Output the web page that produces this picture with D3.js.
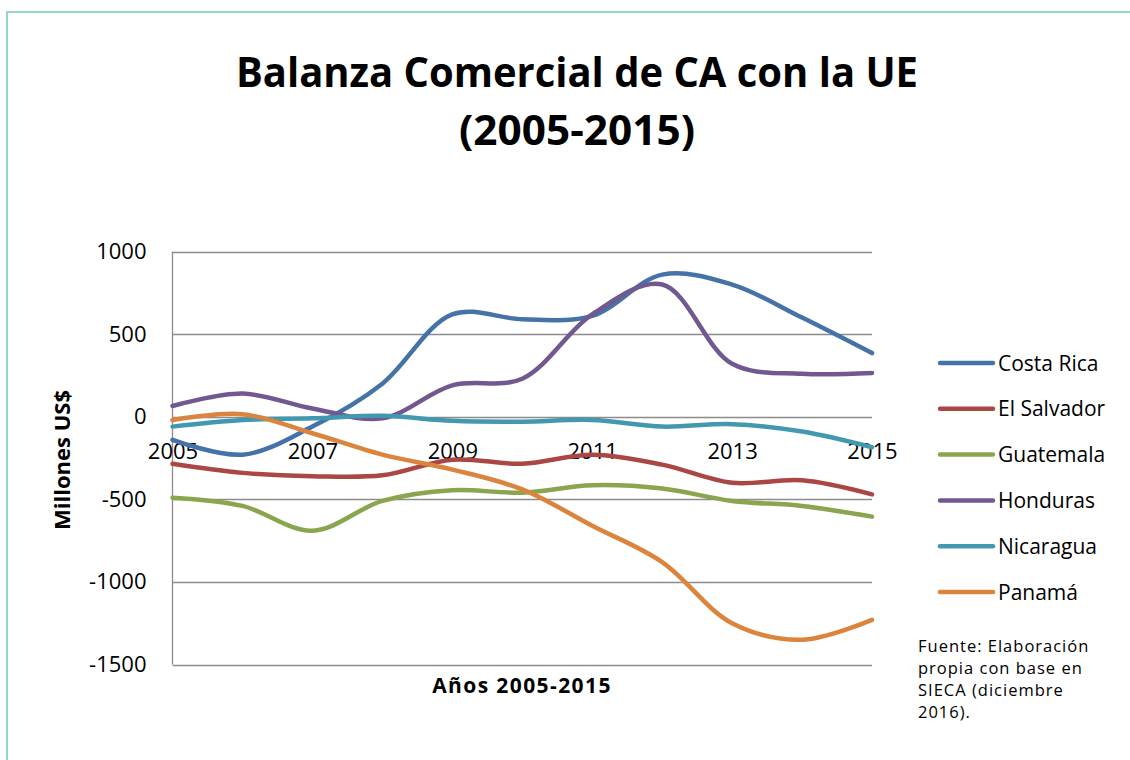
<!DOCTYPE html>
<html>
<head>
<meta charset="utf-8">
<script src="https://cdn.jsdelivr.net/npm/d3@7"></script>
<style>
  body { margin: 0; background: #fff; }
  text { font-family: "Open Sans", "Liberation Sans", sans-serif; }
</style>
</head>
<body>
<svg width="1130" height="760"></svg>
<script>

var years = [2005, 2006, 2007, 2008, 2009, 2010, 2011, 2012, 2013, 2014, 2015];
var yearTicks = [2005, 2007, 2009, 2011, 2013, 2015];
var valueTicks = [1000, 500, 0, -500, -1000, -1500];

var countries = ['Costa Rica', 'El Salvador', 'Guatemala', 'Honduras', 'Nicaragua', 'Panamá'];
var colors = ['#4572a7', '#aa4643', '#89a54e', '#71588f', '#4198af', '#db843d'];

var costaRica  = [-140, -230, -60, 200, 620, 590, 610, 860, 800, 600, 385];
var elSalvador = [-285, -340, -360, -355, -260, -285, -230, -290, -400, -385, -470];
var guatemala  = [-490, -540, -690, -510, -445, -460, -415, -435, -510, -540, -605];
var honduras   = [65, 140, 50, -10, 190, 230, 620, 800, 320, 260, 265];
var nicaragua  = [-60, -20, -10, 5, -25, -30, -20, -60, -45, -90, -185];
var panama     = [-20, 15, -100, -230, -320, -440, -660, -880, -1250, -1350, -1230];

var series = [costaRica, elSalvador, guatemala, honduras, nicaragua, panama];

var fuente = ['Fuente: Elaboración', 'propia con base en', 'SIECA (diciembre', '2016).'];

var svg = d3.select('svg');

// marco exterior
svg.append('path')
    .attr('d', 'M7,760 L7,12 L1130,12')
    .attr('fill', 'none')
    .attr('stroke', '#93d5c6')
    .attr('stroke-width', 2);

var scaleX = d3.scaleLinear().domain([2005, 2015]).range([172.5, 872]);
var scaleY = d3.scaleLinear().domain([-1500, 1000]).range([664.5, 251.5]);

// titulo
svg.append('text')
    .attr('x', 577).attr('y', 87)
    .attr('text-anchor', 'middle')
    .attr('font-size', 41).attr('font-weight', 'bold')
    .attr('textLength', 682).attr('lengthAdjust', 'spacingAndGlyphs')
    .text('Balanza Comercial de CA con la UE');
svg.append('text')
    .attr('x', 577).attr('y', 145)
    .attr('text-anchor', 'middle')
    .attr('font-size', 41).attr('font-weight', 'bold')
    .attr('textLength', 236).attr('lengthAdjust', 'spacingAndGlyphs')
    .text('(2005-2015)');

// grilla
svg.append('g')
    .selectAll('line')
    .data(valueTicks)
    .enter()
    .append('line')
    .attr('x1', scaleX(2005))
    .attr('x2', scaleX(2015))
    .attr('y1', function(d) { return Math.round(scaleY(d)) + 0.5; })
    .attr('y2', function(d) { return Math.round(scaleY(d)) + 0.5; })
    .attr('stroke', '#8c8c8c')
    .attr('stroke-width', 1.3);

svg.append('line')
    .attr('x1', scaleX(2005)).attr('x2', scaleX(2005))
    .attr('y1', scaleY(1000)).attr('y2', scaleY(-1500))
    .attr('stroke', '#8c8c8c')
    .attr('stroke-width', 1.3);

// eje Y
var axisY = svg.append('g')
    .attr('transform', 'translate(' + scaleX(2005) + ',0)')
    .call(d3.axisLeft(scaleY).tickValues(valueTicks).tickSize(0).tickPadding(26)
        .tickFormat(function(d) { return String(d); }));
axisY.select('.domain').remove();
axisY.selectAll('text')
    .attr('font-size', 22)
    .attr('font-family', '"Open Sans", sans-serif')
    .attr('fill', '#000');

// eje X (cruza en 0)
var axisX = svg.append('g')
    .attr('transform', 'translate(0,' + scaleY(0) + ')')
    .call(d3.axisBottom(scaleX).tickValues(yearTicks).tickSize(0).tickPadding(27)
        .tickFormat(function(d) { return String(d); }));
axisX.select('.domain').remove();
axisX.selectAll('text')
    .attr('font-size', 22)
    .attr('font-family', '"Open Sans", sans-serif')
    .attr('fill', '#000');

// lineas
var line = d3.line()
    .x(function(d, i) { return scaleX(years[i]); })
    .y(function(d) { return scaleY(d); })
    .curve(d3.curveCatmullRom.alpha(0.5));

svg.append('g')
    .selectAll('path')
    .data(series)
    .enter()
    .append('path')
    .attr('d', line)
    .attr('fill', 'none')
    .attr('stroke', function(d, i) { return colors[i]; })
    .attr('stroke-width', 4.5)
    .attr('stroke-linecap', 'round');

// titulos de ejes
svg.append('text')
    .attr('transform', 'translate(70,460) rotate(-90)')
    .attr('text-anchor', 'middle')
    .attr('font-size', 22).attr('font-weight', 'bold')
    .text('Millones US$');

svg.append('text')
    .attr('x', 522).attr('y', 693)
    .attr('text-anchor', 'middle')
    .attr('font-size', 21).attr('font-weight', 'bold')
    .attr('letter-spacing', 1.4)
    .text('Años 2005-2015');

// leyenda
var legend = svg.append('g')
    .selectAll('g')
    .data(countries)
    .enter()
    .append('g')
    .attr('transform', function(d, i) { return 'translate(940,' + (363 + i * 45.8) + ')'; });

legend.append('line')
    .attr('x1', 0).attr('x2', 53)
    .attr('stroke', function(d, i) { return colors[i]; })
    .attr('stroke-width', 4.5)
    .attr('stroke-linecap', 'round');

legend.append('text')
    .attr('x', 58).attr('y', 7.5)
    .attr('font-size', 21)
    .text(function(d) { return d; });

// fuente
svg.append('g')
    .selectAll('text')
    .data(fuente)
    .enter()
    .append('text')
    .attr('x', 918)
    .attr('y', function(d, i) { return 652 + i * 22; })
    .attr('font-size', 16.5)
    .attr('letter-spacing', 1)
    .text(function(d) { return d; });

</script>
</body>
</html>
